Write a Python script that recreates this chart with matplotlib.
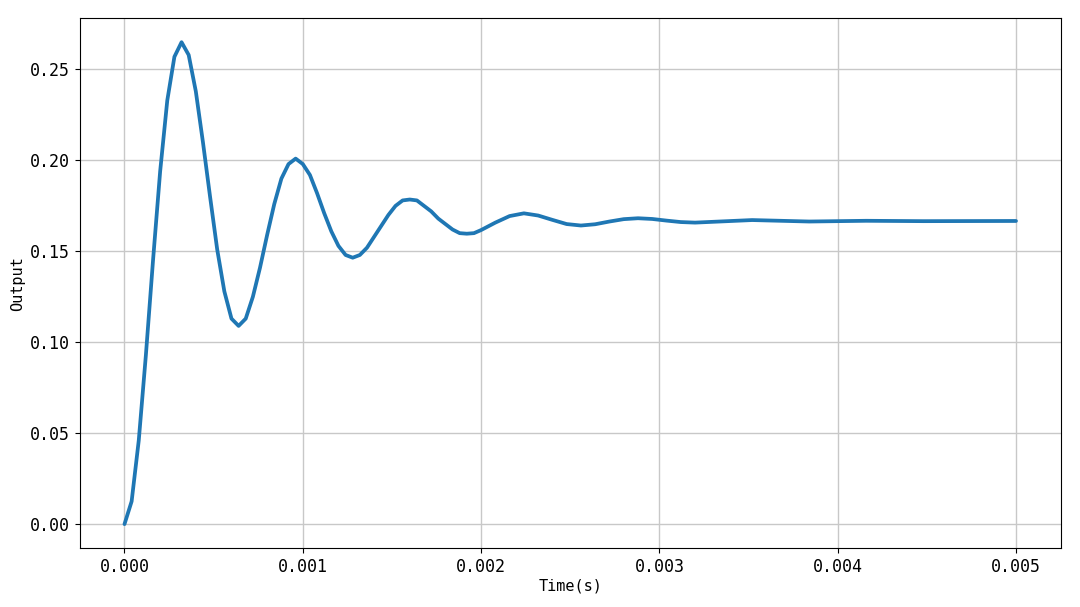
import matplotlib
matplotlib.use("Agg")
import matplotlib.pyplot as plt

time_s = [i*0.00004 for i in range(51)] + [i*0.00004 for i in range(52, 81, 2)] + [0.00352, 0.00384, 0.00416, 0.00448, 0.005]
output = [0.0, 0.0125, 0.046, 0.093, 0.145, 0.194, 0.233, 0.257, 0.265, 0.258,
          0.238, 0.210, 0.180, 0.151, 0.128, 0.113, 0.109, 0.113, 0.125, 0.141,
          0.159, 0.176, 0.190, 0.198, 0.201, 0.198, 0.192, 0.182, 0.171, 0.161,
          0.153, 0.148, 0.1465, 0.148, 0.152, 0.158, 0.164, 0.170, 0.175, 0.178,
          0.1785, 0.178, 0.175, 0.172, 0.168, 0.165, 0.162, 0.160, 0.1597, 0.160,
          0.1617,
          0.1658, 0.1694, 0.1709, 0.1697, 0.1673, 0.1650, 0.1642, 0.1649, 0.1664,
          0.1677, 0.1682, 0.1678, 0.1669, 0.1661, 0.1658,
          0.1672, 0.1664, 0.1668, 0.1666, 0.1667]

plt.rcParams['font.family'] = ['DejaVu Sans Mono']
fig = plt.figure(figsize=(10.8, 6.07), dpi=100)
ax = fig.add_axes([0.074, 0.097, 0.908, 0.873])
ax.plot(time_s, output, color='#1f77b4', lw=2.7, solid_joinstyle='round', solid_capstyle='round')
ax.set_xlabel('Time(s)', fontsize=11, labelpad=2)
ax.set_ylabel('Output', fontsize=11)
ax.set_xticks([0, 0.001, 0.002, 0.003, 0.004, 0.005])
ax.set_xticklabels(['0.000', '0.001', '0.002', '0.003', '0.004', '0.005'])
ax.set_yticks([0, 0.05, 0.10, 0.15, 0.20, 0.25])
ax.set_yticklabels(['0.00', '0.05', '0.10', '0.15', '0.20', '0.25'])
ax.tick_params(labelsize=12)
ax.grid(True, color='#c8c8c8', lw=1)
ax.set_axisbelow(True)
ax.set_xlim(-0.00025, 0.00525)
ax.set_ylim(-0.0132, 0.2782)
fig.savefig('out.png', dpi=100)
